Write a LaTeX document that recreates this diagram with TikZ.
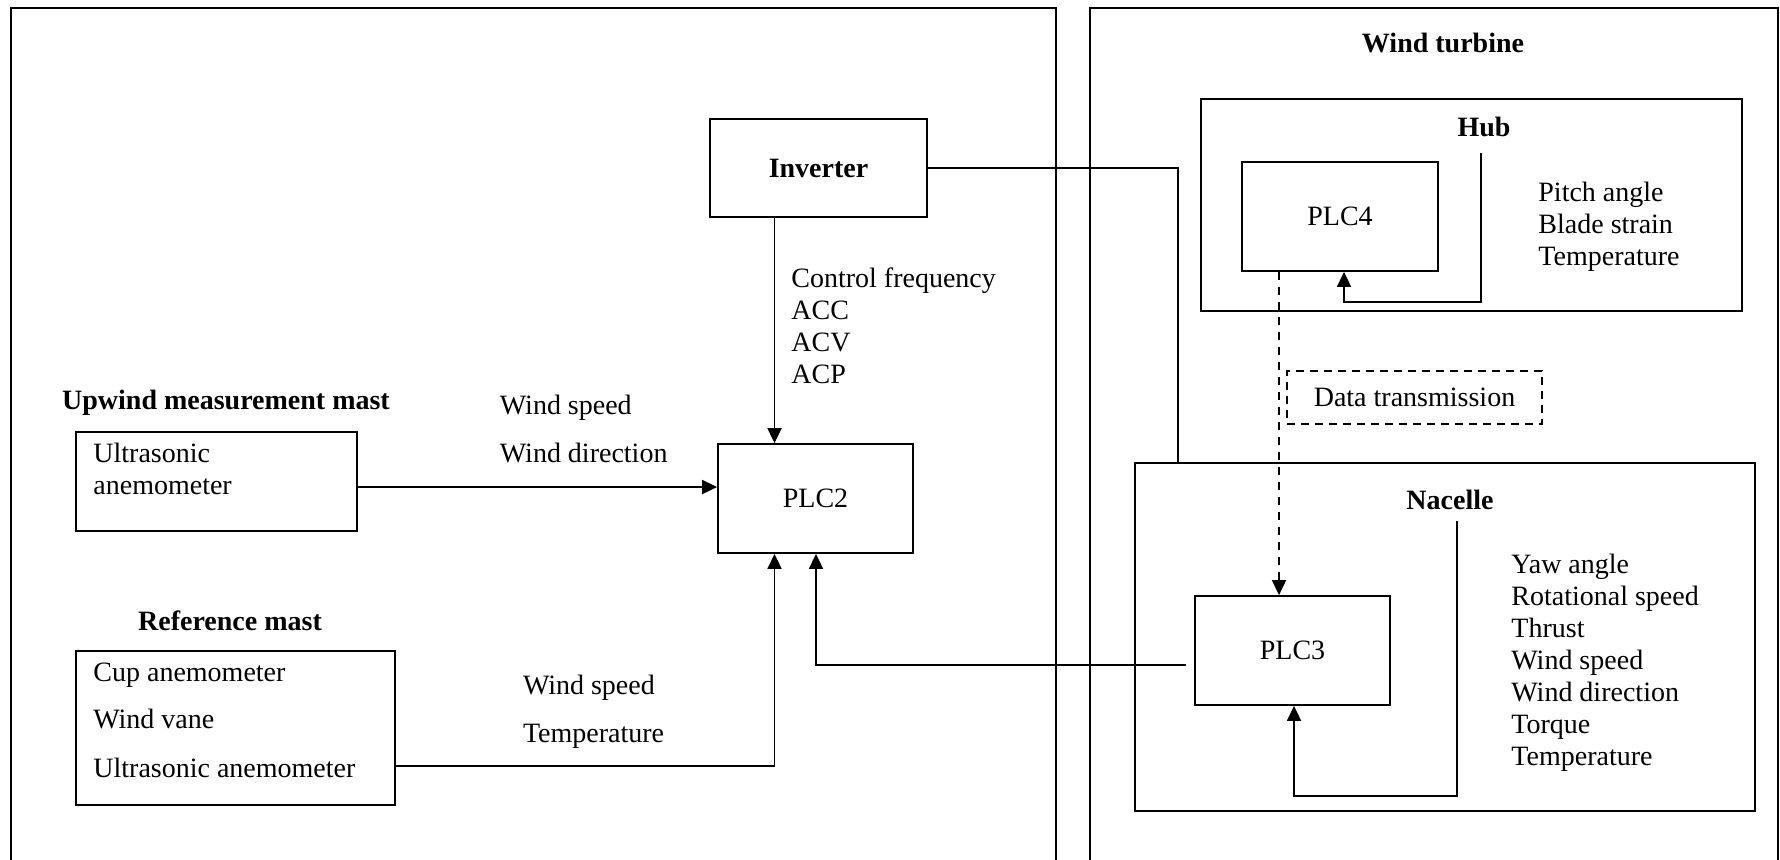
\documentclass[tikz,border=0pt]{standalone}
\usepackage{fontspec}
\setmainfont{Liberation Serif}
\usetikzlibrary{arrows.meta}
\begin{document}
\begin{tikzpicture}[x=0.5pt,y=-0.5pt,
  every node/.style={font=\fontsize{14}{16}\selectfont},
  box/.style={draw, line width=0.9pt, inner sep=0pt, anchor=center},
  dbox/.style={box, dash pattern=on 4pt off 3pt},
  conn/.style={line width=0.9pt},
  arr/.style={line width=0.9pt, -{Triangle[length=7.5pt,width=7pt]}},
  lbl/.style={anchor=base west, inner sep=0pt, align=left},
  ttl/.style={anchor=base, inner sep=0pt, font=\fontsize{14}{16}\selectfont\bfseries},
]
\useasboundingbox (0,0) rectangle (1780,859);
\fill[white] (0,0) rectangle (1780,859);
% outer frames
\draw[conn] (11,862) |- (1056,8) -- (1056,862);
\draw[conn] (1090,862) |- (1778,8) -- (1778,862);

% boxes
\node[box, minimum width=108.5pt, minimum height=49pt, font=\fontsize{14}{16}\selectfont\bfseries] (inv) at (818.5,168) {Inverter};
\node[box, minimum width=97.5pt, minimum height=54.5pt] (plc2) at (815.5,498.5) {PLC2};
\node[box, minimum width=140.5pt, minimum height=49.5pt] (us) at (216.5,481.5) {};
\node[box, minimum width=159.5pt, minimum height=77pt] (ref) at (235.5,728) {};
\node[box, minimum width=270.5pt, minimum height=106pt] (hub) at (1471.5,205) {};
\node[box, minimum width=98pt, minimum height=54.5pt] (plc4) at (1340,216.5) {PLC4};
\node[dbox, minimum width=127.5pt, minimum height=26.5pt] (dt) at (1414.5,397.5) {Data transmission};
\node[box, minimum width=310pt, minimum height=174pt] (nac) at (1445,637) {};
\node[box, minimum width=97.5pt, minimum height=54.5pt] (plc3) at (1292.5,650.5) {PLC3};

% titles
\node[ttl] (twt) at (1443,52) {Wind turbine};
\node[ttl] (thub) at (1484,136) {Hub};
\node[ttl] (tnac) at (1450,509) {Nacelle};
\node[ttl] (tup) at (226,409) {Upwind measurement mast};
\node[ttl] (tref) at (230,630) {Reference mast};

% text labels (base = baseline of last line)
\node[lbl] (cf) at (791,383) {Control frequency\\ACC\\ACV\\ACP};
\node[lbl] (ws1) at (499.5,414) {Wind speed};
\node[lbl] (wd1) at (499.5,462) {Wind direction};
\node[lbl] (ws2) at (522.6,694) {Wind speed};
\node[lbl] (tp2) at (522.6,742) {Temperature};
\node[lbl] (ust) at (93,494) {Ultrasonic\\anemometer};
\node[lbl] (r1) at (93,681) {Cup anemometer};
\node[lbl] (r2) at (93,728) {Wind vane};
\node[lbl] (r3) at (93,777) {Ultrasonic anemometer};
\node[lbl] (hl) at (1538,265) {Pitch angle\\Blade strain\\Temperature};
\node[lbl] (nl) at (1511,765) {Yaw angle\\Rotational speed\\Thrust\\Wind speed\\Wind direction\\Torque\\Temperature};

% helper coordinates
\coordinate (invx) at (1178,0);
\coordinate (xa) at (774.5,0);
\coordinate (xb) at (816,0);
\coordinate (yu) at (0,487);
\coordinate (yr) at (0,766);
\coordinate (p3l) at (1185.5,665);
\coordinate (xd) at (1279,0);
\coordinate (h1) at (1481,153);
\coordinate (h2) at (1344,302);
\coordinate (n1) at (1457,521);
\coordinate (n2) at (1294,796);

% connectors
\draw[conn] (inv.east) -| (nac.north -| invx);
\draw[arr] (inv.south -| xa) -- (plc2.north -| xa);
\draw[arr] (us.east |- yu) -- (plc2.west |- yu);
\draw[arr] (ref.east |- yr) -| (plc2.south -| xa);
\draw[arr] (p3l) -| (plc2.south -| xb);
\draw[arr, dash pattern=on 4pt off 3.5pt] (plc4.south -| xd) -- (plc3.north -| xd);
\draw[arr] (h1) |- (h2) -- (plc4.south -| h2);
\draw[arr] (n1) |- (n2) -- (plc3.south -| n2);
\end{tikzpicture}
\end{document}
